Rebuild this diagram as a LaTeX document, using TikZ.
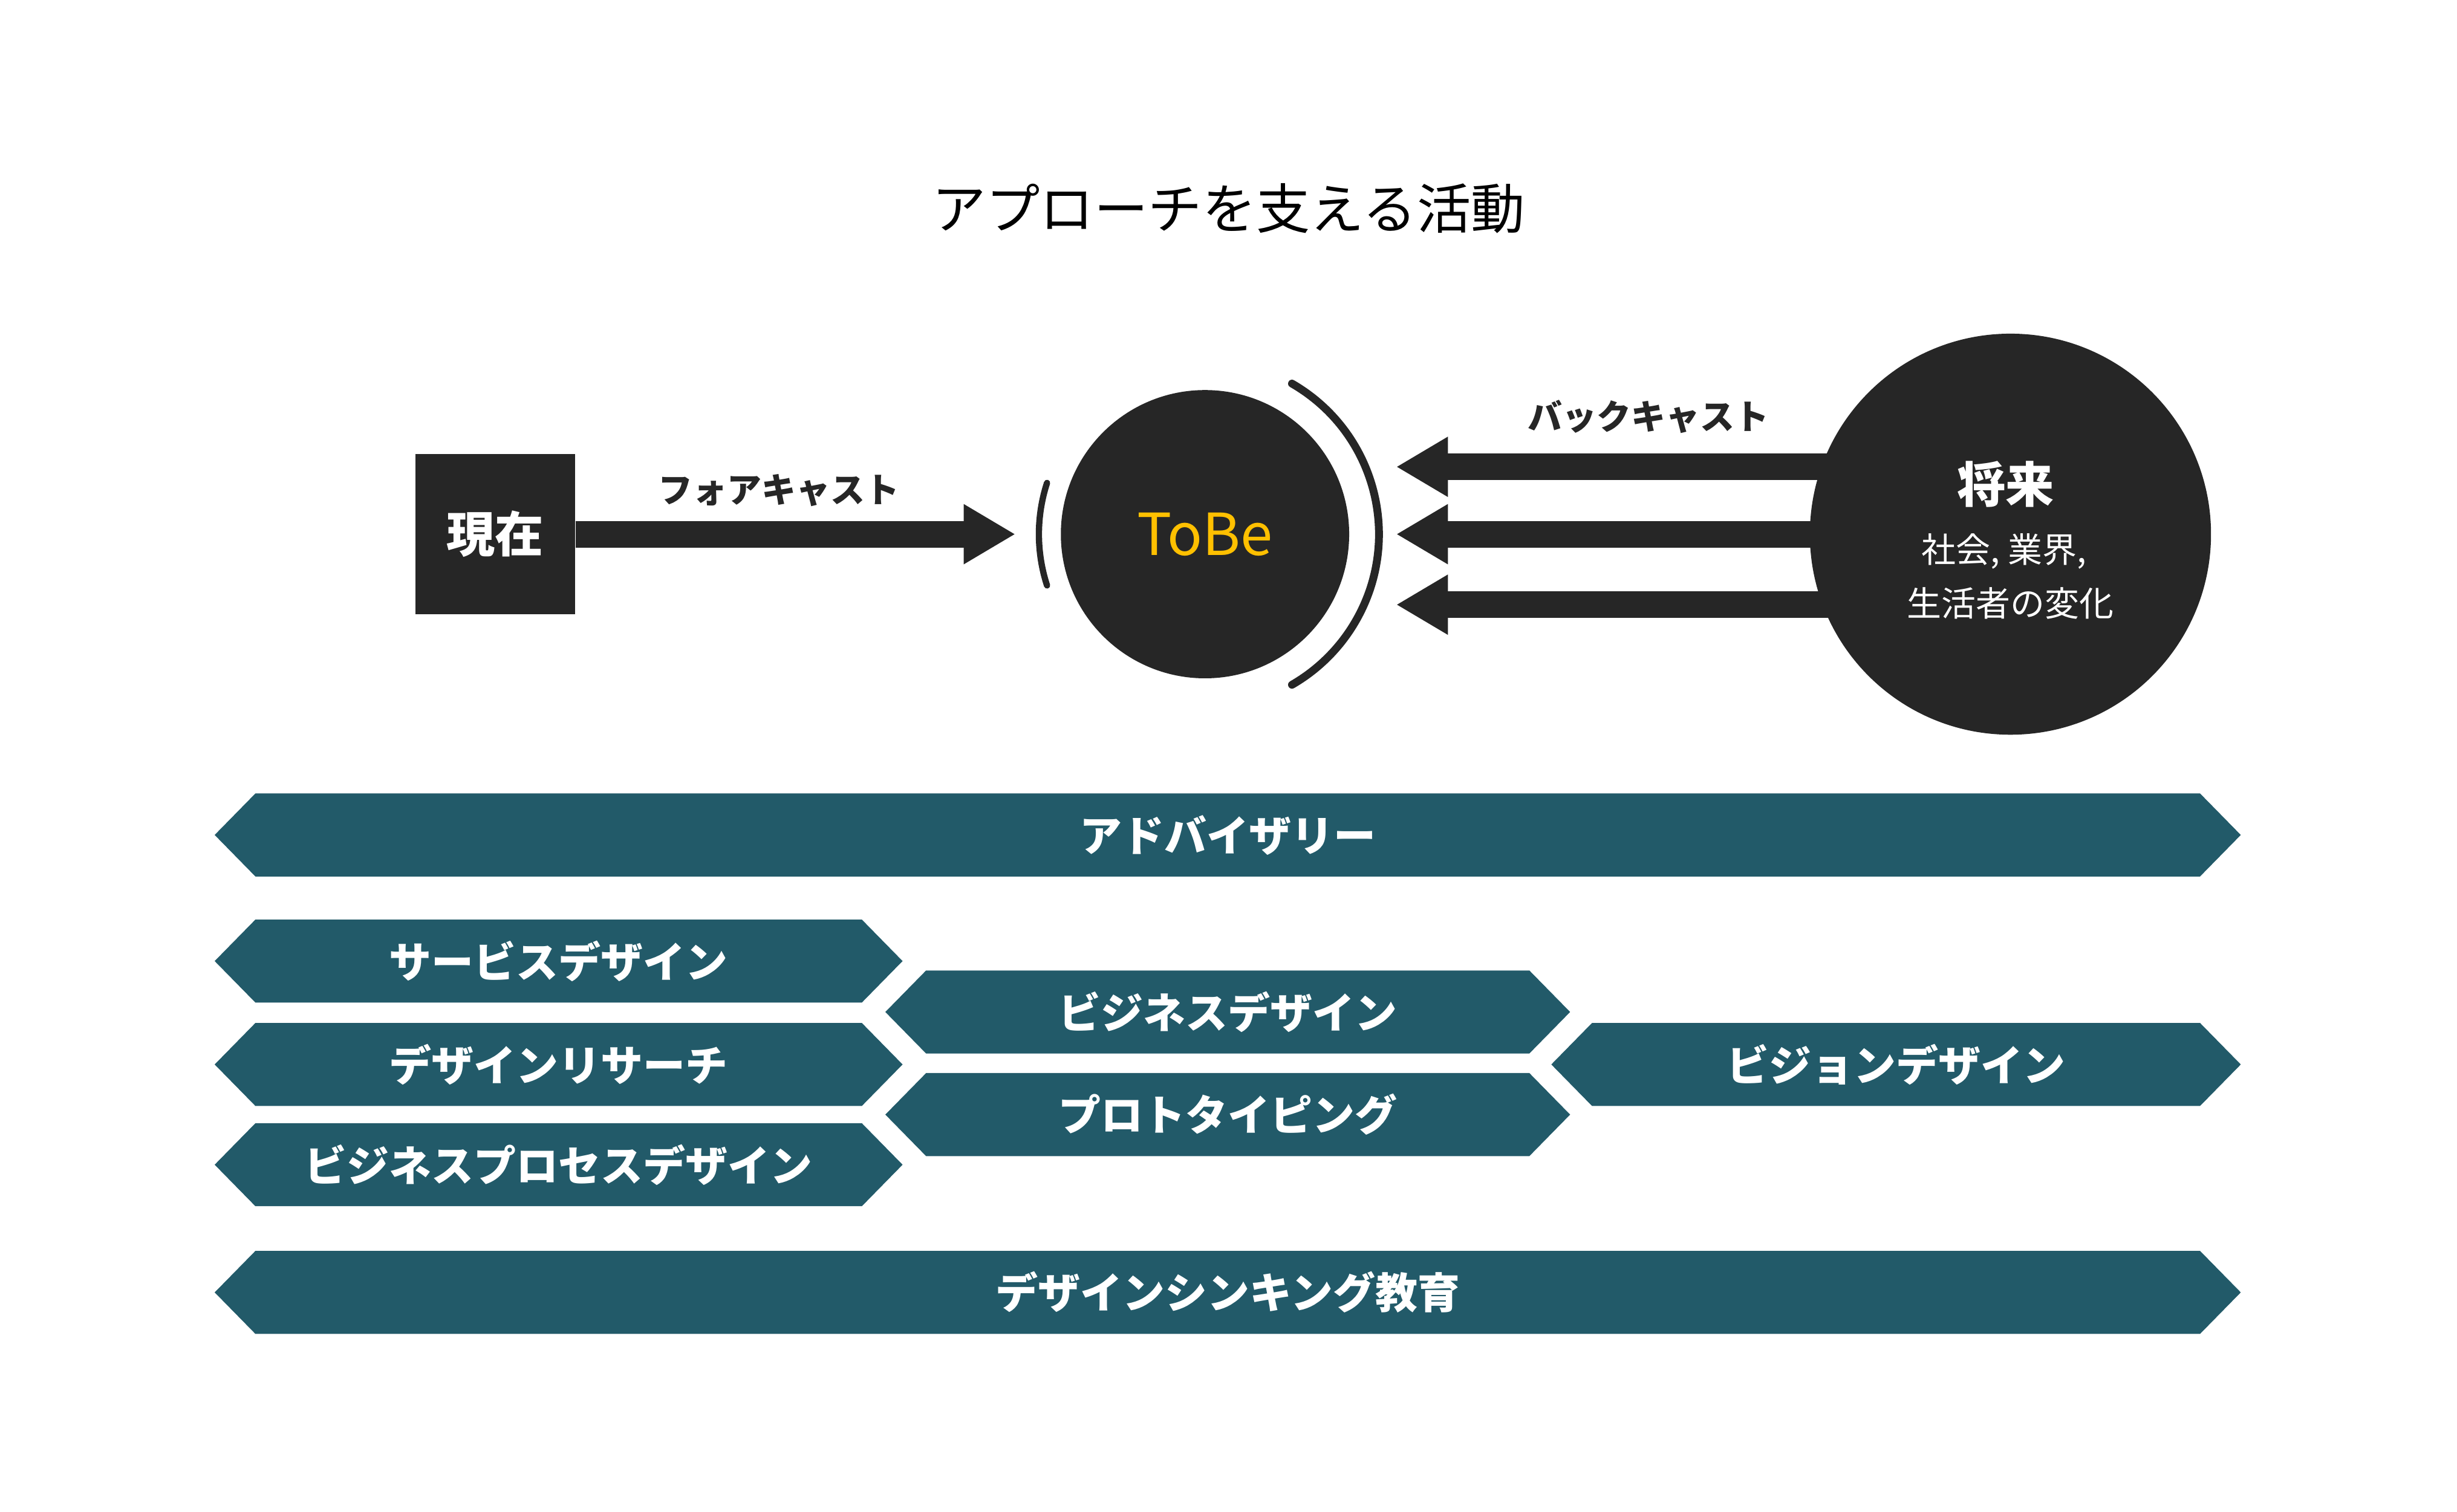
\documentclass[tikz,border=0pt]{standalone}
\usepackage{fontspec}
\setmainfont{Noto Sans CJK JP}
\usetikzlibrary{arrows.meta}
\definecolor{dark}{HTML}{262626}
\definecolor{bandteal}{HTML}{225A69}
\definecolor{gold}{HTML}{FFC000}
\tikzset{
  bandtext/.style={text=white,font=\fontsize{27}{30}\selectfont\bfseries,inner sep=0pt},
  bandfill/.style={fill=bandteal},
  fatarrow/.style={draw=dark,line width=17pt,-{Triangle[length=33pt,width=36pt]}},
  thinarc/.style={draw=dark,line cap=round},
  lbl/.style={text=dark,font=\fontsize{22}{24}\selectfont\bfseries,inner sep=0pt},
}
\newcommand\hexband[5]{%
  \fill[bandfill] (#2,#4) -- ({#2+26},{#4-26.5}) -- ({#3-26},{#4-26.5}) -- (#3,#4)
     -- ({#3-26},{#4+26.5}) -- ({#2+26},{#4+26.5}) -- cycle;
  \node[bandtext] (#1) at ({(#2+#3)/2},#4) {#5};}
\begin{document}
\begin{tikzpicture}[x=1pt,y=-1pt]
\useasboundingbox[fill=white] (0,0) rectangle (1568,965);
% title
\node[text=black,font=\fontsize{34.5}{38}\selectfont,inner sep=0pt] (title) at (784,133) {アプローチを支える活動};
% now box
\node[fill=dark,minimum width=102pt,minimum height=102pt,inner sep=0pt,text=white,font=\fontsize{31}{34}\selectfont\bfseries] (now) at (316,341) {現在};
\coordinate (fctip) at (648,341);
\draw[fatarrow] (now.east) -- (fctip);
\node[lbl] (fclbl) at (497,313) {フォアキャスト};
% backcast arrows (drawn before future circle)
\coordinate (b1s) at (1200,298); \coordinate (b1t) at (891,298);
\coordinate (b2s) at (1200,341); \coordinate (b2t) at (891,341);
\coordinate (b3s) at (1200,386); \coordinate (b3t) at (891,386);
\draw[fatarrow] (b1s) -- (b1t);
\draw[fatarrow] (b2s) -- (b2t);
\draw[fatarrow] (b3s) -- (b3t);
\node[lbl] (bclbl) at (1052,266) {バックキャスト};
% ToBe
\node[circle,fill=dark,minimum size=184pt,inner sep=0pt,text=gold,font=\fontsize{37}{40}\selectfont] (tobe) at (769,341) {ToBe};
\draw[thinarc,line width=5pt] (tobe.center) ++(-60:111) arc[start angle=-60,end angle=60,radius=111];
\draw[thinarc,line width=4pt] (tobe.center) ++(162:106) arc[start angle=162,end angle=198,radius=106];
% future
\node[circle,fill=dark,minimum size=256pt,inner sep=0pt] (future) at (1283,341) {};
\node[text=white,font=\fontsize{31}{33}\selectfont\bfseries,inner sep=0pt] (fut1) at (1280,309) {将来};
\node[text=white,font=\fontsize{22}{24}\selectfont,inner sep=0pt] (fut2) at (1279,352) {社会, 業界,};
\node[text=white,font=\fontsize{22}{24}\selectfont,inner sep=0pt] (fut3) at (1283,385) {生活者の変化};
% bands
\hexband{adv}{137}{1430}{533}{アドバイザリー}
\hexband{sd}{137}{576}{613.5}{サービスデザイン}
\hexband{dr}{137}{576}{679.5}{デザインリサーチ}
\hexband{bpd}{137}{576}{743.5}{ビジネスプロセスデザイン}
\hexband{bd}{565}{1002}{646}{ビジネスデザイン}
\hexband{pt}{565}{1002}{711.5}{プロトタイピング}
\hexband{vd}{990}{1430}{679.5}{ビジョンデザイン}
\hexband{dte}{137}{1430}{825}{デザインシンキング教育}
\end{tikzpicture}
\end{document}
